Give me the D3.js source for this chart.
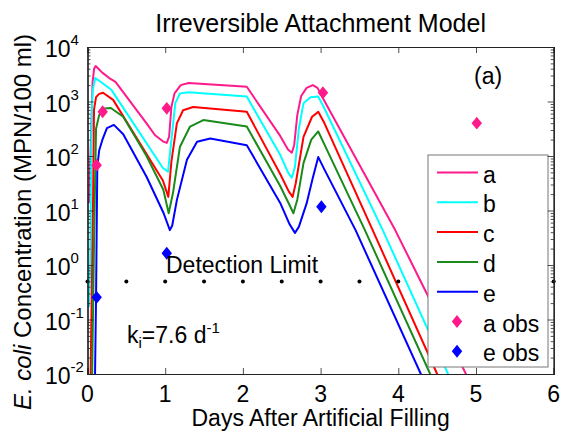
<!DOCTYPE html>
<html><head><meta charset="utf-8">
<script src="https://cdn.jsdelivr.net/npm/d3@7"></script>
<style>
body{margin:0;background:#fff}
svg{display:block}
text{font-family:"Liberation Sans", Arial, Helvetica, sans-serif;fill:#000}
</style>
</head><body>
<svg id="chart" width="561" height="437"></svg>
<script>
// ---------- data (days after filling, E. coli MPN/100 ml) ----------
const seriesNames = ["a","b","c","d","e"];
const seriesColors = ["#ff1a8c","#00ffff","#ff0000","#1a8a1a","#0000ff"];

const aDays   = [0,0.02,0.045,0.065,0.085,0.105,0.19,0.28,0.36,0.76,0.87,0.97,1.02,1.05,1.08,1.12,1.2,1.3,2.05,2.48,2.58,2.63,2.66,2.70,2.75,2.82,2.9,2.96,3.03,3.96,4.4,4.87,4.95];
const aValues = [13.8,14.1,200,2240,3980,4470,3390,2690,2290,398,240,186,174,224,794,1410,2000,2190,1860,234,132,115,158,562,1260,1780,2000,1780,1150,4.37,0.24,0.01,0.005];

const bDays   = [0,0.02,0.035,0.05,0.065,0.1,0.2,0.31,0.97,1.036,1.08,1.13,1.19,1.3,2.05,2.48,2.58,2.63,2.67,2.72,2.78,2.87,2.97,3.04,3.8,4.64,4.72];
const bValues = [0.17,0.174,1,251,1580,2690,2140,1620,60.3,51.3,195,933,1410,1480,1230,105,50.1,39.8,63.1,316,933,1200,1230,794,4.37,0.01,0.005];

const cDays   = [0.035,0.04,0.07,0.084,0.11,0.15,0.2,0.33,0.97,1.04,1.08,1.15,1.23,1.36,2.05,2.48,2.59,2.64,2.68,2.78,2.89,2.97,3.05,3.67,4.5,4.6];
const cValues = [0.001,0.01,10,708,1200,1380,1450,1070,35.5,17.8,79.4,398,692,794,646,46.8,22.4,17.8,31.6,224,525,646,398,4.37,0.01,0.004];

const dDays   = [0.055,0.06,0.085,0.11,0.15,0.22,0.3,0.46,0.76,0.976,1.045,1.1,1.19,1.32,1.49,2.05,2.48,2.6,2.65,2.7,2.78,2.88,2.97,3.05,3.57,4.41,4.5];
const dValues = [0.001,0.01,3.16,316,562,741,759,525,100,24,8.91,20.9,148,347,457,347,28.2,12.6,8.91,15.8,74.1,200,282,162,4.37,0.01,0.004];

const eDays   = [0.09,0.097,0.11,0.126,0.15,0.19,0.25,0.34,0.46,0.76,0.98,1.06,1.09,1.15,1.28,1.41,1.58,2.05,2.48,2.6,2.67,2.72,2.82,2.9,2.97,3.05,3.45,4.29,4.4];
const eValues = [0.001,0.01,0.251,63.1,126,195,324,372,251,41.7,8.91,4.37,5.25,15.5,85.1,182,209,158,13.8,5.62,3.89,5.01,13.5,39.8,95.5,56.2,4.37,0.01,0.004];

const aObsDays   = [0.118,0.195,1.02,3.03,5.01];
const aObsValues = [68,650,750,1450,400];
const eObsDays   = [0.118,1.02,3.01];
const eObsValues = [0.255,1.64,11.7];

const detectionLimit = 0.5;
const detectionDays  = [0,0.5,1,1.5,2,2.5,3,3.5,4,4.5,5,5.5,6];

const xTicks = [0,1,2,3,4,5,6];
const yDecades = [-2,-1,0,1,2,3,4];
const legendLabels = ["a","b","c","d","e","a obs","e obs"];

// ---------- layout ----------
const svg = d3.select("#chart");
svg.append("rect").attr("width",561).attr("height",437).attr("fill","#fff");
const L = 87.5, R = 553.7, T = 47, B = 374;
const x = d3.scaleLinear().domain([0,6]).range([L,R]);
const y = d3.scaleLog().domain([1e-2,1e4]).range([B,T]);

svg.append("defs").append("clipPath").attr("id","plotclip")
  .append("rect").attr("x",L).attr("y",T).attr("width",R-L).attr("height",B-T);

const series = [
  {days:aDays, vals:aValues},
  {days:bDays, vals:bValues},
  {days:cDays, vals:cValues},
  {days:dDays, vals:dValues},
  {days:eDays, vals:eValues}
];

const line = d3.line().x(d=>x(d[0])).y(d=>y(d[1])).curve(d3.curveLinear);
const gLines = svg.append("g").attr("clip-path","url(#plotclip)");
series.forEach((s,i)=>{
  const pts = s.days.map((t,k)=>[t,s.vals[k]]);
  gLines.append("path").attr("d",line(pts)).attr("fill","none")
    .attr("stroke",seriesColors[i]).attr("stroke-width",2).attr("stroke-linejoin","round");
});

// custom matlab-like diamond
const diamond = { draw(ctx,size){ const s=Math.sqrt(size)/2; const w=s*0.85,h=s*1.05;
  ctx.moveTo(0,-h); ctx.lineTo(w,0); ctx.lineTo(0,h); ctx.lineTo(-w,0); ctx.closePath(); } };
const sym = d3.symbol().type(diamond).size(150);

const gObs = svg.append("g");
aObsDays.forEach((t,k)=>{
  gObs.append("path").attr("d",sym()).attr("transform",`translate(${x(t)},${y(aObsValues[k])})`).attr("fill",seriesColors[0]);
});
eObsDays.forEach((t,k)=>{
  gObs.append("path").attr("d",sym()).attr("transform",`translate(${x(t)},${y(eObsValues[k])})`).attr("fill",seriesColors[4]);
});

// detection limit dots
svg.append("g").selectAll("circle").data(detectionDays).join("circle")
  .attr("cx",d=>x(d)).attr("cy",y(detectionLimit)).attr("r",2).attr("fill","#000");

// texts inside plot
svg.append("text").attr("x",166).attr("y",273).attr("font-size",23).text("Detection Limit");
svg.append("text").attr("x",474).attr("y",84).attr("font-size",23).text("(a)");
const kt = svg.append("text").attr("x",127).attr("y",343).attr("font-size",23);
kt.append("tspan").text("k");
kt.append("tspan").attr("font-size",15).attr("dy",5).text("i");
kt.append("tspan").attr("dy",-5).text("=7.6 d");
kt.append("tspan").attr("font-size",15).attr("dy",-10).text("-1");

// ---------- legend ----------
const lg = svg.append("g");
lg.append("rect").attr("x",428).attr("y",155).attr("width",120).attr("height",212)
  .attr("fill","#fff").attr("stroke","#777").attr("stroke-width",1);
legendLabels.forEach((lab,i)=>{
  const yy = 172.5 + 29.8*i;
  if(i<5){
    lg.append("line").attr("x1",437).attr("x2",478).attr("y1",yy).attr("y2",yy)
      .attr("stroke",seriesColors[i]).attr("stroke-width",2);
  } else {
    lg.append("path").attr("d",sym()).attr("transform",`translate(457,${yy})`)
      .attr("fill", i===5?seriesColors[0]:seriesColors[4]);
  }
  lg.append("text").attr("x",483).attr("y",yy+10).attr("font-size",23).text(lab);
});

// ---------- axes ----------
const axisColor = "#222";
const gx = svg.append("g").attr("transform",`translate(0,${B})`)
  .call(d3.axisBottom(x).tickValues(xTicks).tickSize(-6).tickFormat(""));
const gxt = svg.append("g").attr("transform",`translate(0,${T})`)
  .call(d3.axisTop(x).tickValues(xTicks).tickSize(-6).tickFormat(""));
const majors = yDecades.map(e=>Math.pow(10,e));
const minors = [];
yDecades.slice(0,-1).forEach(e=>{ for(let k=2;k<=9;k++) minors.push(k*Math.pow(10,e)); });
const gy = svg.append("g").attr("transform",`translate(${L},0)`)
  .call(d3.axisLeft(y).tickValues(majors).tickSize(-6).tickFormat(""));
const gym = svg.append("g").attr("transform",`translate(${L},0)`)
  .call(d3.axisLeft(y).tickValues(minors).tickSize(-3).tickFormat(""));
const gyr = svg.append("g").attr("transform",`translate(${R},0)`)
  .call(d3.axisRight(y).tickValues(majors).tickSize(-6).tickFormat(""));
const gyrm = svg.append("g").attr("transform",`translate(${R},0)`)
  .call(d3.axisRight(y).tickValues(minors).tickSize(-3).tickFormat(""));
[gx,gxt,gy,gym,gyr,gyrm].forEach(g=>{
  g.selectAll("path.domain").attr("stroke",axisColor).attr("stroke-width",1.2);
  g.selectAll(".tick line").attr("stroke",axisColor).attr("stroke-width",0.8);
});

// x tick labels
svg.append("g").selectAll("text").data(xTicks).join("text")
  .attr("x",d=>x(d)).attr("y",402).attr("text-anchor","middle").attr("font-size",23).text(d=>d);

// y tick labels (10^n)
yDecades.forEach(e=>{
  const t = svg.append("text").attr("x",45).attr("y",y(Math.pow(10,e))+10).attr("font-size",23);
  t.append("tspan").text("10");
  t.append("tspan").attr("font-size",15).attr("dy",-12).text(String(e));
});

// titles
svg.append("text").attr("x",(L+R)/2).attr("y",32).attr("text-anchor","middle")
  .attr("font-size",25).text("Irreversible Attachment Model");
svg.append("text").attr("x",(L+R)/2).attr("y",426).attr("text-anchor","middle")
  .attr("font-size",23).text("Days After Artificial Filling");
const yl = svg.append("text").attr("transform","translate(31,222) rotate(-90)")
  .attr("text-anchor","middle").attr("font-size",24);
yl.append("tspan").attr("font-style","italic").text("E. coli");
yl.append("tspan").text(" Concentration (MPN/100 ml)");
</script>
</body></html>
